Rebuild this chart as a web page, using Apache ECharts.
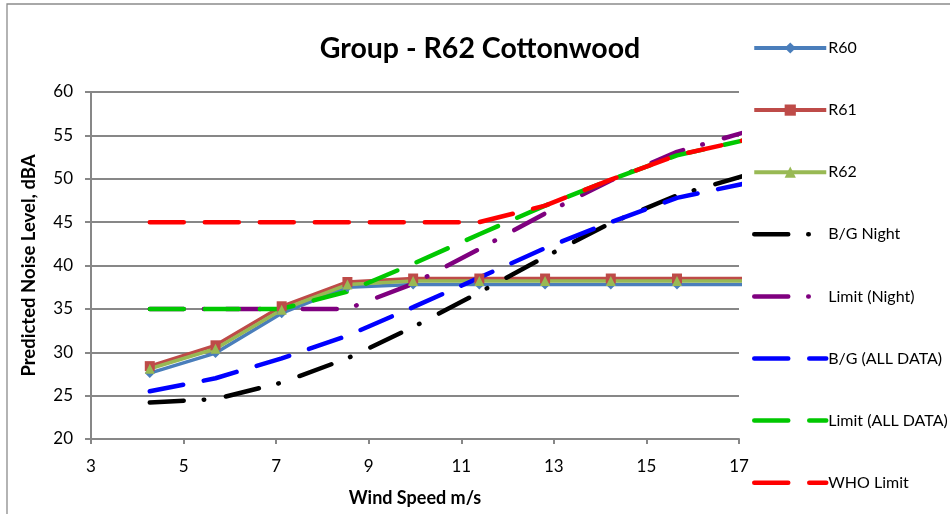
<!DOCTYPE html>
<html lang="en">
<head>
    <meta charset="UTF-8">
    <title>Group - R62 Cottonwood</title>
    <script src="https://cdn.jsdelivr.net/npm/echarts@6/dist/echarts.min.js"></script>
    <style>
      body{
        margin: 0;
        background: #fff;
      }
      #main{
        width: 950px;
        height: 514px;
      }
    </style>
</head>
<body>
<div id="main"></div>
<script>
    // wind speed at each prediction point (m/s)
    let windSpeed = [4.27, 5.69, 7.12, 8.54, 9.96, 11.39, 12.81, 14.23, 15.66, 17.08]

    // predicted levels, dBA
    let r60 = [27.6, 29.9, 34.5, 37.5, 37.8, 37.8, 37.8, 37.8, 37.8, 37.8]
    let r61 = [28.4, 30.8, 35.3, 38.1, 38.5, 38.5, 38.5, 38.5, 38.5, 38.5]
    let r62 = [28.1, 30.4, 34.9, 37.8, 38.2, 38.2, 38.2, 38.2, 38.2, 38.2]

    let bgNight = [24.2, 24.6, 26.5, 29.3, 32.9, 36.9, 41.0, 44.9, 48.1, 50.3]
    let limitNight = [35, 35, 35, 35, 37.9, 41.9, 46.0, 49.8, 53.1, 55.3]
    let bgAll = [25.5, 27.0, 29.3, 31.9, 35.2, 38.6, 42.0, 45.0, 47.8, 49.4]
    let limitAll = [35, 35, 35, 37.0, 40.2, 43.6, 46.9, 49.9, 52.7, 54.4]
    let whoLimit = [45, 45, 45, 45, 45, 45, 46.9, 49.9, 52.7, 54.4]

    let xTicks = [3, 17, 2]     // min, max, step
    let yTicks = [20, 60, 5]

    let font = 'Lato, "Liberation Sans", sans-serif'
    let gridGray = '#878787'

    function pairs(values) {
        return values.map((v, i) => [windSpeed[i], v])
    }

    function solid(name, color, symbol, values) {
        return {
            name: name,
            type: 'line',
            data: pairs(values),
            symbol: symbol,
            symbolSize: 10,
            showAllSymbol: true,
            lineStyle: { color: color, width: 3.5 },
            itemStyle: { color: color },
            emphasis: { disabled: true },
            animation: false
        }
    }

    function dashed(name, color, dash, values) {
        return {
            name: name,
            type: 'line',
            data: pairs(values),
            symbol: 'none',
            lineStyle: { color: color, width: 4.5, type: dash, cap: 'round' },
            itemStyle: { color: color },
            emphasis: { disabled: true },
            animation: false
        }
    }

    let dashDot = [34, 20, 0.5, 22]
    let longDash = [34, 21]

    // legend entries: solid ones keep their marker, dashed ones show the line only
    let legendSolid = ['R60', 'R61', 'R62']
    let legendDashed = ['B/G Night', 'Limit (Night)', 'B/G (ALL DATA)', 'Limit (ALL DATA)', 'WHO Limit']
    let legendData = legendSolid.map(n => ({ name: n, lineStyle: { width: 4 } }))
        .concat(legendDashed.map(n => ({ name: n, lineStyle: { width: 4.5 }, itemStyle: { opacity: 0 } })))

    let myChart = echarts.init(document.getElementById('main'))
    let option = {
        backgroundColor: '#fff',
        textStyle: { fontFamily: font },
        title: {
            text: 'Group - R62 Cottonwood',
            left: 475,
            top: 29,
            textAlign: 'center',
            textStyle: { fontFamily: font, fontSize: 28.5, fontWeight: 'bold', color: '#000' }
        },
        legend: {
            orient: 'vertical',
            left: 747,
            top: 35,
            itemWidth: 72,
            itemHeight: 14,
            itemGap: 46.1,
            textStyle: { fontFamily: font, fontSize: 16, color: '#000', padding: [0, 0, 0, -3] },
            data: legendData
        },
        grid: {
            left: 91,
            right: 211,
            top: 92,
            bottom: 75,
            containLabel: false,
            outerBoundsMode: 'none'
        },
        xAxis: {
            type: 'value',
            min: xTicks[0],
            max: xTicks[1],
            interval: xTicks[2],
            name: 'Wind Speed m/s',
            nameLocation: 'middle',
            nameGap: 50,
            nameTextStyle: { fontFamily: font, fontSize: 18, fontWeight: 'bold', color: '#000' },
            axisLine: { lineStyle: { color: gridGray, width: 2 } },
            axisTick: { show: true, length: 5, lineStyle: { color: gridGray, width: 2 } },
            axisLabel: { fontFamily: font, fontSize: 17, color: '#000', margin: 19 },
            splitLine: { show: false }
        },
        yAxis: {
            type: 'value',
            min: yTicks[0],
            max: yTicks[1],
            interval: yTicks[2],
            name: 'Predicted Noise Level, dBA',
            nameLocation: 'middle',
            nameGap: 52,
            nameTextStyle: { fontFamily: font, fontSize: 18.5, fontWeight: 'bold', color: '#000' },
            axisLine: { show: true, lineStyle: { color: gridGray, width: 2 } },
            axisTick: { show: true, length: 6, lineStyle: { color: gridGray, width: 2 } },
            axisLabel: { fontFamily: font, fontSize: 17, color: '#000', margin: 18 },
            splitLine: { show: true, lineStyle: { color: gridGray, width: 2 } }
        },
        graphic: [{
            type: 'rect',
            shape: { x: 7, y: 4, width: 1000, height: 600 },
            style: { fill: 'none', stroke: '#8c8c8c', lineWidth: 1.3 },
            silent: true
        }],
        series: [
            solid('R60', '#4A7EBB', 'diamond', r60),
            solid('R61', '#BE4B48', 'rect', r61),
            solid('R62', '#98B954', 'triangle', r62),
            dashed('B/G Night', '#000000', dashDot, bgNight),
            dashed('Limit (Night)', '#7F007F', dashDot, limitNight),
            dashed('B/G (ALL DATA)', '#0000FF', longDash, bgAll),
            dashed('Limit (ALL DATA)', '#00C800', longDash, limitAll),
            dashed('WHO Limit', '#FF0000', longDash, whoLimit)
        ]
    }
    myChart.setOption(option)
</script>
</body>
</html>
